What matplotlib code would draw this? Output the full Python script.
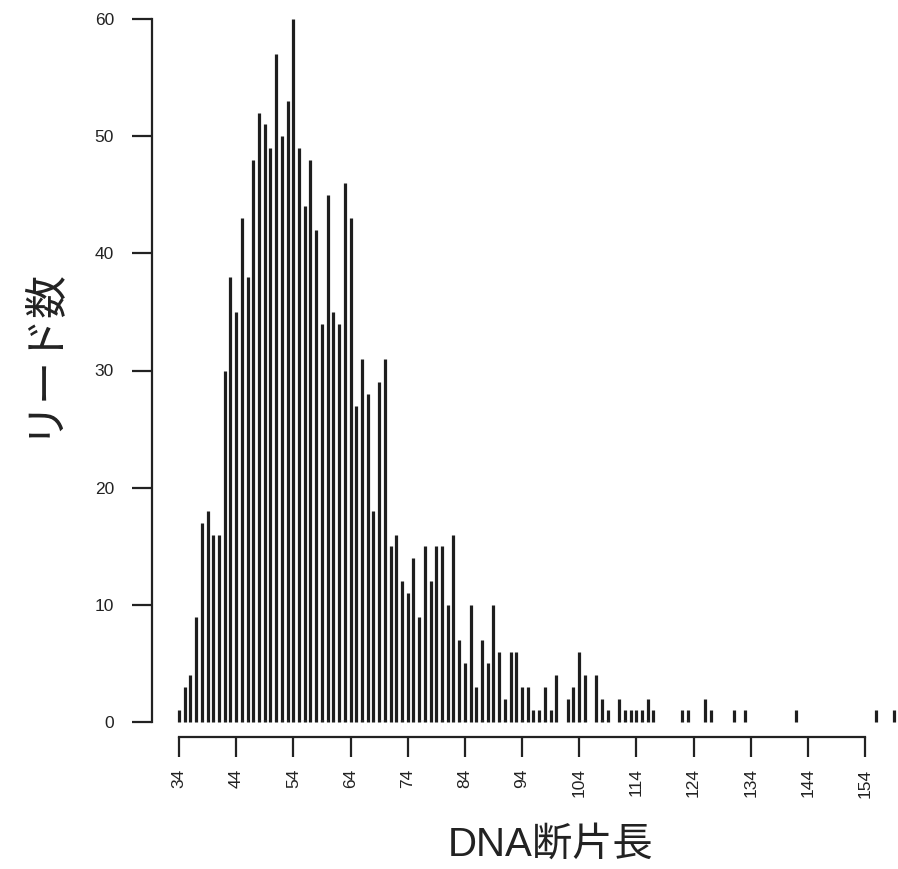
import matplotlib
matplotlib.use("Agg")
import matplotlib.pyplot as plt

plt.rcParams['font.family'] = ['Liberation Sans', 'Noto Sans CJK JP']

# DNA断片長ごとのリード数 (0件の長さは省略)
lengths = [34, 35, 36, 37, 38, 39, 40, 41, 42, 43, 44, 45, 46, 47, 48, 49, 50,
           51, 52, 53, 54, 55, 56, 57, 58, 59, 60, 61, 62, 63, 64, 65, 66, 67,
           68, 69, 70, 71, 72, 73, 74, 75, 76, 77, 78, 79, 80, 81, 82, 83, 84,
           85, 86, 87, 88, 89, 90, 91, 92, 93, 94, 95, 96, 97, 98, 99, 100,
           102, 103, 104, 105, 107, 108, 109, 111, 112, 113, 114, 115, 116,
           117, 122, 123, 126, 127, 131, 133, 142, 156, 159]
counts = [1, 3, 4, 9, 17, 18, 16, 16, 30, 38, 35, 43, 38, 48, 52, 51, 49,
          57, 50, 53, 60, 49, 44, 48, 42, 34, 45, 35, 34, 46, 43, 27, 31, 28,
          18, 29, 31, 15, 16, 12, 11, 14, 9, 15, 12, 15, 15, 10, 16, 7, 5,
          10, 3, 7, 5, 10, 6, 2, 6, 6, 3, 3, 1, 1, 3, 1, 4,
          2, 3, 6, 4, 4, 2, 1, 2, 1, 1, 1, 1, 2,
          1, 1, 1, 2, 1, 1, 1, 1, 1, 1]

xticks = list(range(34, 155, 10))
yticks = [0, 10, 20, 30, 40, 50, 60]

W, H = 898, 869
fig = plt.figure(figsize=(W / 100, H / 100), dpi=100)

# 軸の位置 (ピクセル基準)
x0, x1 = 29.3, 159.6
ppx = (865 - 179) / 120.0
left = 179 - (34 - x0) * ppx
right = 179 + (x1 - 34) * ppx
y0, y1 = -1.3, 61.5
ppy = (722 - 19) / 60.0
bottom = 722 + (0 - y0) * ppy
top = 722 - y1 * ppy
ax = fig.add_axes([left / W, 1 - bottom / H, (right - left) / W, (bottom - top) / H])

ax.vlines(lengths, 0, counts, colors='#1e1e1e', linewidth=2.3)

ax.set_xlim(x0, x1)
ax.set_ylim(y0, y1)

for s in ['top', 'right']:
    ax.spines[s].set_visible(False)
ax.spines['left'].set_bounds(0, 60)
ax.spines['bottom'].set_bounds(34, 154)
for s in ['left', 'bottom']:
    ax.spines[s].set_linewidth(1.6)
    ax.spines[s].set_color('#222222')

ax.set_xticks(xticks)
ax.set_xticklabels([str(t) for t in xticks], rotation=90)
ax.set_yticks(yticks)
ax.tick_params(axis='y', direction='out', length=14.5, width=1.6, pad=13,
               labelsize=12.5, colors='#222222')
ax.tick_params(axis='x', direction='out', length=14.5, width=1.6, pad=8,
               labelsize=12.5, colors='#222222')

fig.text(40 / W, 1 - 351 / H, 'リード数', rotation=90, ha='center', va='center',
         fontsize=31, color='#222222', family=['Noto Sans CJK JP'])
fig.text(551 / W, 1 - 845 / H, 'DNA断片長', ha='center', va='center',
         fontsize=29, color='#222222', family=['Liberation Sans', 'Noto Sans CJK JP'])

fig.savefig('out.png', dpi=100)
